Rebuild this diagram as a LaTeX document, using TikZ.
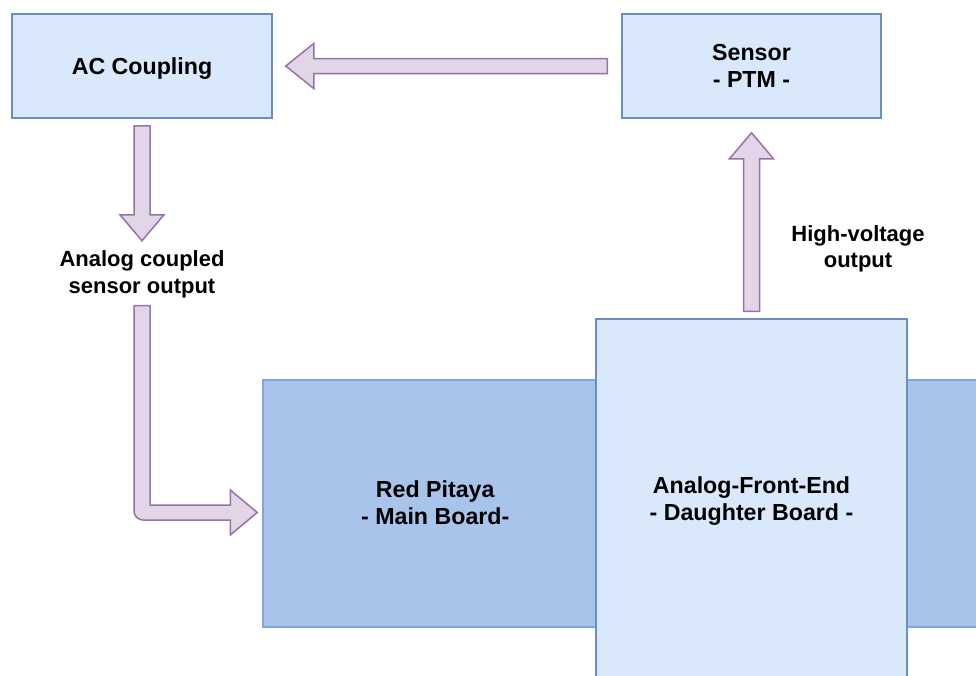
\documentclass[tikz,border=0pt]{standalone}
\usepackage{fontspec}
\setmainfont{Liberation Sans}
\usepackage{tikz}
\usetikzlibrary{positioning,calc}

\definecolor{boxfill}{HTML}{DAE8FC}
\definecolor{boxline}{HTML}{6C8EBF}
\definecolor{boardfill}{HTML}{A9C4EB}
\definecolor{boardline}{HTML}{7EA6E0}
\definecolor{flowfill}{HTML}{E1D5E7}
\definecolor{flowline}{HTML}{9673A6}

\tikzset{
  lightbox/.style={rectangle,draw=boxline,fill=boxfill,line width=1.5pt,
    align=center,font=\fontsize{23.2}{27.5}\selectfont\bfseries},
  boardbox/.style={rectangle,draw=boardline,fill=boardfill,line width=1.5pt},
  boxtxt/.style={align=center,inner sep=0pt,font=\fontsize{23.2}{27.5}\selectfont\bfseries},
  txt/.style={align=center,inner sep=0pt,font=\fontsize{22}{26.5}\selectfont\bfseries},
  flow/.style={draw=flowline,fill=flowfill,line width=1.5pt,line join=miter}
}

\begin{document}
\begin{tikzpicture}[x=1pt,y=-1pt]
  \clip (0,0) rectangle (976,675);
  \fill[white] (0,0) rectangle (976,675);
  % blocks
  \node[lightbox,minimum width=260pt,minimum height=104pt,text depth=0pt] (ac) at (142,66) {AC Coupling};
  \node[lightbox,minimum width=259pt,minimum height=104pt] (sensor) at (751.5,66) {Sensor\\- PTM -};
  \node[boardbox,minimum width=737pt,minimum height=247pt] (mainboard) at (631.5,503.5) {};
  \node[boxtxt] (mbtext) at ($(mainboard.west)+(173,-1)$) {Red Pitaya\\- Main Board-};
  \node[lightbox,minimum width=311pt,minimum height=400pt] (afe) at (751.5,519) {};
  \node[boxtxt] (afetext) at ($(afe.north)+(0,183)$) {Analog-Front-End\\- Daughter Board -};
  % labels
  \node[txt] (coupled) at (142,274.5) {Analog coupled\\sensor output};
  \node[txt] (hv) at (858,249) {High-voltage\\output};
  % sensor -> ac coupling
  \draw[flow] ($(sensor.west)+(-14,-7.5)$) -- ($(ac.east)+(41,-7.5)$) -- ++(0,-15)
    -- ($(ac.east)+(13,0)$) -- ($(ac.east)+(41,22.5)$) -- ++(0,-15)
    -- ($(sensor.west)+(-14,7.5)$) -- cycle;
  % ac coupling -> label
  \draw[flow] ($(ac.south)+(-8,7)$) -- ++(0,89) -- ++(-14,0)
    -- ($(ac.south)+(0,122)$) -- ++(22,-26) -- ++(-14,0) -- ($(ac.south)+(8,7)$) -- cycle;
  % label -> main board
  \coordinate (tip) at ($(mainboard.west)+(-5,9)$);
  \coordinate (bend) at (coupled.south |- tip);
  \draw[flow] ($(coupled.south)+(-8,7.5)$) [rounded corners=9pt]-- ($(bend)+(-8,7.5)$)
    [sharp corners]-- ($(tip)+(-27,7.5)$) -- ++(0,15) -- (tip) -- ($(tip)+(-27,-22.5)$)
    -- ++(0,15) -- ($(bend)+(8,-7.5)$) -- ($(coupled.south)+(8,7.5)$) -- cycle;
  % daughter board -> sensor
  \draw[flow] ($(afe.north)+(-8,-7)$) -- ($(sensor.south)+(-8,40)$) -- ++(-14,0)
    -- ($(sensor.south)+(0,14)$) -- ++(22,26) -- ++(-14,0) -- ($(afe.north)+(8,-7)$) -- cycle;
\end{tikzpicture}
\end{document}
